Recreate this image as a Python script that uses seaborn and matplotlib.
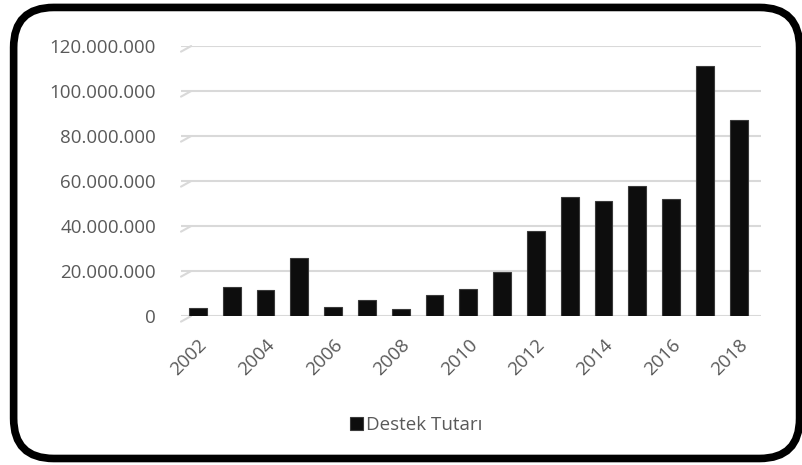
import pandas as pd
import matplotlib.pyplot as plt
import seaborn as sns
from matplotlib.patches import FancyBboxPatch
from matplotlib.ticker import FuncFormatter

# Values (TL)
years = [str(y) for y in range(2002, 2019)]
destek = [3.5e6, 13e6, 11.5e6, 26e6, 4e6, 7e6, 3e6, 9.5e6, 12e6, 19.5e6,
          38e6, 53e6, 51e6, 58e6, 52e6, 111e6, 87e6]
yticks = [0, 20e6, 40e6, 60e6, 80e6, 100e6, 120e6]

data = pd.DataFrame({'Yil': years, 'Destek Tutarı': destek})

sns.set_theme(style="white")
plt.rcParams['font.family'] = ['Open Sans', 'DejaVu Sans']

fig = plt.figure(figsize=(8.02, 4.65), dpi=100)
ax = fig.add_axes([181 / 802, 0.3204, 580 / 802, 0.901 - 0.3204])

sns.barplot(data=data, x='Yil', y='Destek Tutarı', color='#0d0d0d',
            width=0.53, saturation=1, ax=ax, label='Destek Tutarı',
            edgecolor='#3a3a3a', linewidth=0.8, zorder=3)

ax.set_ylim(0, 120e6)
ax.set_yticks(yticks)
ax.yaxis.set_major_formatter(FuncFormatter(lambda v, p: f"{int(v):,}".replace(',', '.')))
ax.yaxis.grid(True, color='#d9d9d9', linewidth=1.5, zorder=0)
ax.tick_params(axis='y', length=0, pad=18, labelsize=13.5, labelcolor='#595959')

# show every other year, rotated like the original
ax.set_xticks(range(0, len(years), 2))
ax.set_xticklabels(years[::2], rotation=45, ha='right', rotation_mode='anchor')
ax.tick_params(axis='x', length=0, pad=14, labelsize=13.5, labelcolor='#595959')

# small diagonal "floor" stubs at the left end of each gridline
for v in yticks:
    ax.plot([-0.5, -0.2], [v - 2.5e6, v], color='#d9d9d9', lw=1.5,
            clip_on=False, zorder=0)
ax.set_xlim(-0.5, len(years) - 0.34)

for s in ax.spines.values():
    s.set_visible(False)
ax.set_xlabel('')
ax.set_ylabel('')

leg = ax.legend(loc='center', bbox_to_anchor=(0.519, 0.086),
                bbox_transform=fig.transFigure, frameon=False,
                fontsize=13.5, handlelength=0.7, handleheight=0.7,
                handletextpad=0.2)
for t in leg.get_texts():
    t.set_color('#595959')

# rounded black frame
frame = FancyBboxPatch((0.017, 0.014), 0.98, 0.97,
                       boxstyle="round,pad=0,rounding_size=0.05",
                       transform=fig.transFigure, facecolor='none',
                       edgecolor='black', linewidth=5.5, mutation_aspect=802 / 465)
fig.patches.append(frame)

plt.savefig('out.png', dpi=100)
